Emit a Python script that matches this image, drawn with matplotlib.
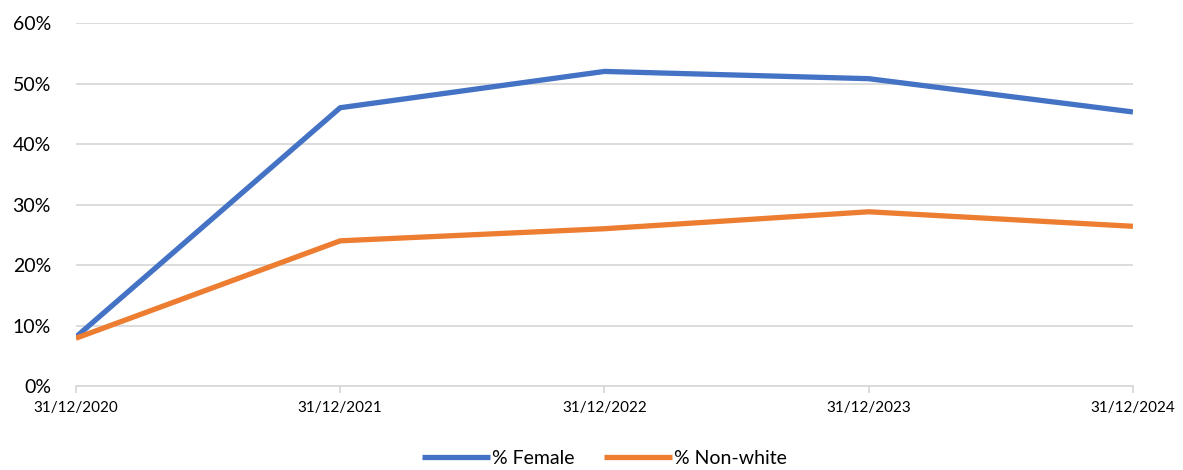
import matplotlib
matplotlib.use("Agg")
import matplotlib.pyplot as plt
from matplotlib.ticker import PercentFormatter

plt.rcParams['font.family'] = ['Lato', 'DejaVu Sans']

dates = ['31/12/2020', '31/12/2021', '31/12/2022', '31/12/2023', '31/12/2024']
female = [8.1, 46.0, 52.0, 50.8, 45.3]
non_white = [7.9, 24.0, 26.0, 28.8, 26.4]

fig = plt.figure(figsize=(11.83, 4.70), dpi=100)
ax = fig.add_axes([0.0642, 0.1787, 0.8935, 0.7723])

x = range(len(dates))
ax.plot(x, female, color='#4472C4', lw=3.8, label='% Female', solid_capstyle='butt')
ax.plot(x, non_white, color='#ED7D31', lw=3.8, label='% Non-white', solid_capstyle='butt')

ax.set_xlim(0, len(dates) - 1)
ax.set_ylim(0, 60)
ax.set_yticks(range(0, 61, 10))
ax.yaxis.set_major_formatter(PercentFormatter(decimals=0))
ax.set_xticks(list(x))
ax.set_xticklabels(dates)

ax.grid(axis='y', color='#D9D9D9', lw=1.3)
ax.set_axisbelow(True)
for s in ['top', 'right', 'left']:
    ax.spines[s].set_visible(False)
ax.spines['bottom'].set_color('#D9D9D9')
ax.spines['bottom'].set_linewidth(1.3)

ax.tick_params(axis='y', length=0, labelsize=14, pad=18, colors='#000000')
ax.tick_params(axis='x', length=5, width=1.3, color='#D9D9D9', labelsize=11, pad=6)

# legend sits centred under the plot
ax.legend(loc='center', bbox_to_anchor=(0.5, -0.2), ncol=2, frameon=False,
          fontsize=14, handlelength=3.5, handletextpad=0.1, columnspacing=1.5)

fig.savefig('out.png', dpi=100)
